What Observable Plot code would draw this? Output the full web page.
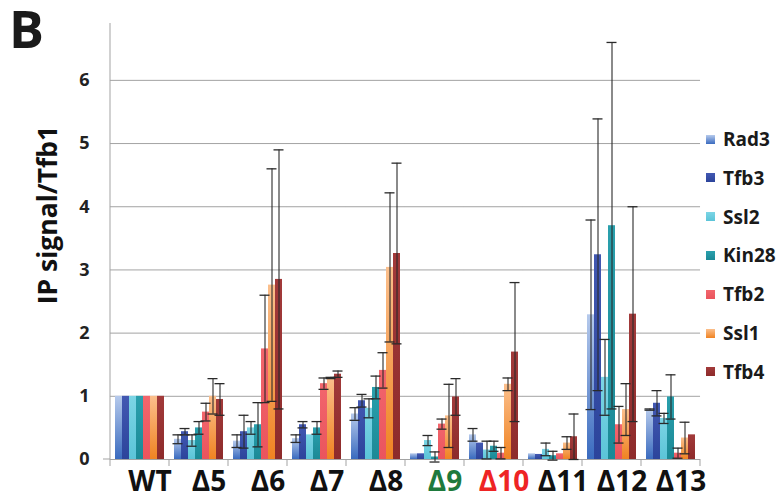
<!DOCTYPE html>
<html><head><meta charset="utf-8">
<script src="https://cdn.jsdelivr.net/npm/d3@7"></script>
<script src="https://cdn.jsdelivr.net/npm/@observablehq/plot@0.6"></script>
<style>
body{margin:0;background:#fff;}
#wrap{position:relative;width:777px;height:494px;font-family:"Open Sans",sans-serif;font-weight:700;color:#1a1a1a;}
#title{position:absolute;left:9px;top:2px;font-size:52px;line-height:52px;z-index:2;}
#ylabel{position:absolute;left:47px;top:215px;font-size:26.5px;line-height:1;white-space:nowrap;transform:translate(-50%,-50%) rotate(-90deg);z-index:2;color:#111;}
.leg{position:absolute;left:706px;height:20px;display:flex;align-items:center;font-size:19px;white-space:nowrap;}
.sw{width:9px;height:9px;margin-right:8px;}
</style></head><body><div id="wrap"><div id="title">B</div><div id="ylabel">IP signal/Tfb1</div></div>
<script>
const categories = ["WT","Δ5","Δ6","Δ7","Δ8","Δ9","Δ10","Δ11","Δ12","Δ13"];
const labelColors = ["#111","#111","#111","#111","#111","#1e7a3c","#ee2424","#111","#111","#111"];
const series = ["Rad3","Tfb3","Ssl2","Kin28","Tfb2","Ssl1","Tfb4"];
const topColors    = ["#b6caec","#4258b2","#7cd5e5","#2aa0ad","#f2666d","#fbbf8c","#a23a3a"];
const bottomColors = ["#3a6bbf","#2c449b","#5bc4d8","#1b8996","#ea545d","#f08322","#8d2b2b"];
const yTicks = [0,1,2,3,4,5,6];
const yTickLabels = ["0","1","2","3","4","5","6"];
const gridTicks = [1,2,3,4,5,6];

const rad3  = [1, 0.32, 0.29, 0.33, 0.72, 0.09, 0.39, 0.09, 2.29, 0.79];
const tfb3  = [1, 0.44, 0.44, 0.55, 0.93, 0.09, 0.26, 0.08, 3.24, 0.89];
const ssl2  = [1, 0.30, 0.50, 0.39, 0.81, 0.30, 0.15, 0.16, 1.30, 0.65];
const kin28 = [1, 0.50, 0.55, 0.50, 1.14, 0.04, 0.21, 0.06, 3.70, 0.99];
const tfb2  = [1, 0.75, 1.75, 1.20, 1.41, 0.56, 0.10, 0.09, 0.55, 0.10];
const ssl1  = [1, 1.00, 2.76, 1.29, 3.04, 0.69, 1.19, 0.26, 0.79, 0.34];
const tfb4  = [1, 0.95, 2.85, 1.35, 3.26, 0.99, 1.70, 0.36, 2.30, 0.39];

const rad3Err  = [0, 0.07, 0.10, 0.06, 0.10, 0, 0.10, 0, 1.50, 0.01];
const tfb3Err  = [0, 0.05, 0.26, 0.05, 0.10, 0, 0, 0, 2.15, 0.20];
const ssl2Err  = [0, 0.09, 0.10, 0, 0.15, 0.08, 0.14, 0.10, 0.60, 0.08];
const kin28Err = [0, 0.10, 0.35, 0.10, 0.18, 0.08, 0.08, 0.07, 2.90, 0.35];
const tfb2Err  = [0, 0.14, 0.85, 0.09, 0.28, 0.08, 0.09, 0, 0.29, 0.08];
const ssl1Err  = [0, 0.28, 1.84, 0.01, 1.18, 0.50, 0.10, 0.10, 0.41, 0.25];
const tfb4Err  = [0, 0.25, 2.05, 0.05, 1.43, 0.29, 1.10, 0.36, 1.70, 0];

const values = [rad3, tfb3, ssl2, kin28, tfb2, ssl1, tfb4];
const errors = [rad3Err, tfb3Err, ssl2Err, kin28Err, tfb2Err, ssl1Err, tfb4Err];

const rows = categories.flatMap((c, i) => series.map((s, j) => ({
  category: c, series: s, si: j, value: values[j][i], err: errors[j][i]
})));
const errRows = rows.filter(d => d.err > 0);

const W = 777, H = 494, ML = 108, MR = 76, MT = 23, MB = 35;
const PAD = 0.17;
const STEP = (W - ML - MR) / categories.length;
const HALFGAP = PAD * STEP / 2;
const axisGray = "#a3a3a3";

const chart = Plot.plot({
  width: W, height: H,
  marginLeft: ML, marginRight: MR, marginTop: MT, marginBottom: MB,
  style: {fontFamily: "Open Sans", fontWeight: 700, background: "white", overflow: "visible"},
  fx: {domain: categories, paddingInner: PAD, paddingOuter: PAD / 2, axis: null, label: null},
  x: {domain: series, padding: 0, axis: null},
  y: {domain: [0, 6.9], axis: null},
  color: {type: "identity"},
  marks: [
    Plot.ruleY(gridTicks, {stroke: axisGray, strokeWidth: 1, insetLeft: -HALFGAP, insetRight: -HALFGAP}),
    Plot.ruleY([0], {stroke: axisGray, strokeWidth: 1, insetLeft: -HALFGAP, insetRight: -HALFGAP}),
    Plot.barY(rows, {fx: "category", x: "series", y: "value", fill: d => `url(#grad-${d.si})`}),
    Plot.ruleX(errRows, {fx: "category", x: "series", y1: d => d.value - d.err, y2: d => d.value + d.err, stroke: "#2a2a2a", strokeWidth: 1.1}),
    Plot.tickY(errRows, {fx: "category", x: "series", y: d => d.value + d.err, stroke: "#2a2a2a", strokeWidth: 1.3, insetLeft: -1.5, insetRight: -1.5}),
    Plot.tickY(errRows, {fx: "category", x: "series", y: d => d.value - d.err, stroke: "#2a2a2a", strokeWidth: 1.3, insetLeft: -1.5, insetRight: -1.5}),
    Plot.text(yTicks, {fx: () => categories[0], y: d => d, text: (d, i) => yTickLabels[i], frameAnchor: "left", textAnchor: "end", dx: -(21 + HALFGAP), fontSize: 18, fontWeight: 700, fill: "#222"}),
    Plot.text(categories, {fx: d => d, text: d => d, frameAnchor: "bottom", lineAnchor: "bottom", dy: 31, dx: 10, fontSize: 28, fontWeight: 700, fill: d => labelColors[categories.indexOf(d)]})
  ]
});

const svg = d3.select(chart);
const defs = svg.insert("defs", ":first-child");
series.forEach((s, i) => {
  const g = defs.append("linearGradient").attr("id", "grad-" + i)
    .attr("x1", 0).attr("y1", 0).attr("x2", 0).attr("y2", 1);
  g.append("stop").attr("offset", "0%").attr("stop-color", topColors[i]);
  g.append("stop").attr("offset", "100%").attr("stop-color", bottomColors[i]);
});

// vertical axis line and category boundary ticks, from Plot's own scales
const fx = chart.scale("fx"), y = chart.scale("y");
const y0 = y.apply(0), yTop = y.apply(6.9);
const gap = fx.step - fx.bandwidth;
const bounds = categories.map(c => fx.apply(c) - gap / 2);
bounds.push(fx.apply(categories[categories.length - 1]) + fx.bandwidth + gap / 2);
const ax = svg.append("g").attr("stroke", axisGray).attr("stroke-width", 1);
ax.append("line").attr("x1", bounds[0]).attr("x2", bounds[0]).attr("y1", yTop).attr("y2", y0);
ax.append("line").attr("x1", bounds[0] - 7).attr("x2", bounds[0]).attr("y1", y0).attr("y2", y0);
bounds.forEach(b => ax.append("line").attr("x1", b).attr("x2", b).attr("y1", y0).attr("y2", y0 + 7));

const wrap = document.getElementById("wrap");
wrap.appendChild(chart);
chart.style.position = "absolute"; chart.style.left = "0"; chart.style.top = "0";

series.forEach((s, i) => {
  const d = document.createElement("div");
  d.className = "leg";
  d.style.top = (139 + i * 38.8 - 10) + "px";
  d.innerHTML = `<div class="sw" style="background:linear-gradient(${topColors[i]},${bottomColors[i]})"></div><span>${s}</span>`;
  wrap.appendChild(d);
});
</script></body></html>
